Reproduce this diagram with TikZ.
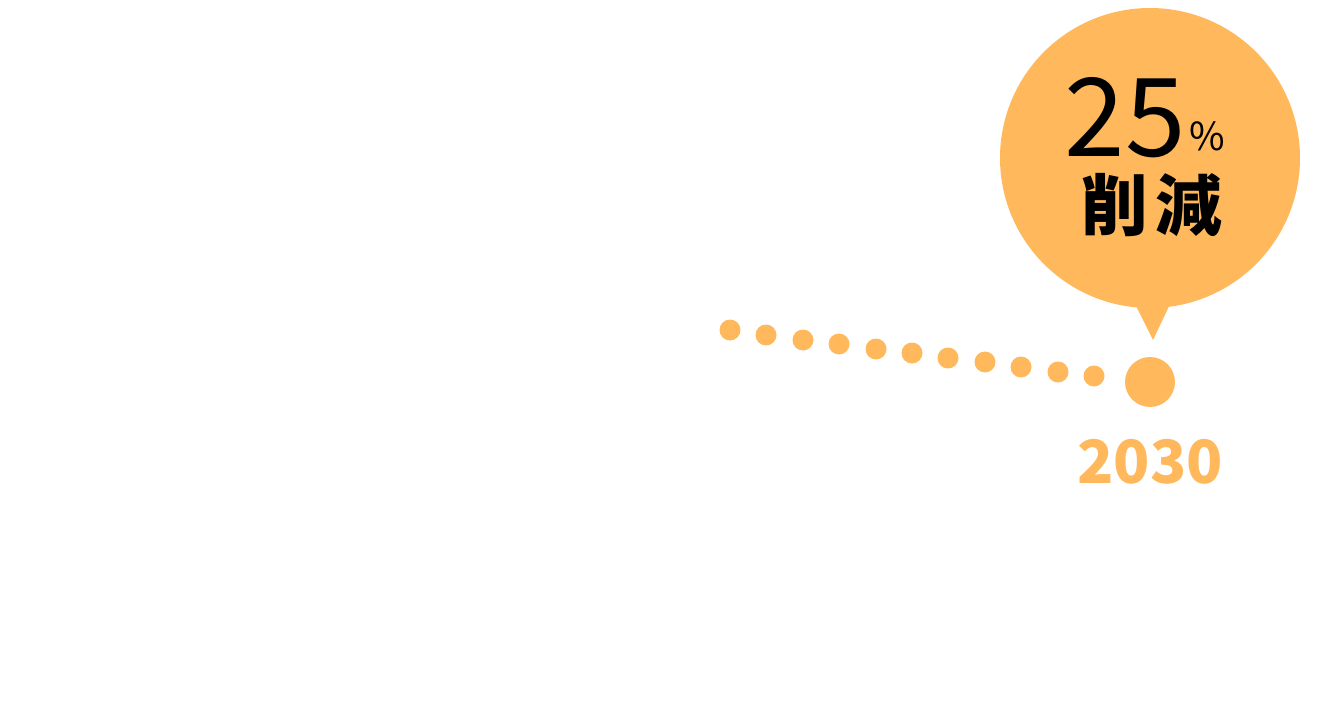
\documentclass[tikz,border=0pt]{standalone}
\usepackage{fontspec}
\setmainfont{Noto Sans CJK JP}
\newfontfamily\cjkb{Noto Sans CJK JP Bold}
\definecolor{org}{HTML}{FFB95C}
\begin{document}
\begin{tikzpicture}[x=0.02cm,y=-0.02cm,
  dotsm/.style={fill=org,draw=none}]
\useasboundingbox (0,0) rectangle (1320,720);
\fill[org] (1150,158) circle (150);
\fill[org] (1133,300) -- (1172,300) -- (1153,340) -- cycle;
\node[circle,fill=org,minimum size=1cm,inner sep=0pt] (big) at (1150,382) {};
\foreach \x/\y [count=\i] in {730/330,766/335,803/340,839/344,876/349,912/353,948/358,985/362,1021/367,1058/372,1094/376}
  \fill[dotsm] (\x,\y) circle (10.5);
\node[text=org,font=\fontsize{34}{34}\selectfont\bfseries] (yr) at (1150,462) {2030};
\node[font=\fontsize{62}{62}\selectfont] (num) at (1125,118) {25};
\node[font=\fontsize{22}{22}\selectfont] (pct) at (1207,136) {\%};
\node[font=\fontsize{38}{38}\selectfont\bfseries] (cut) at (1152,205) {削\hspace{0.1em}減};
\end{tikzpicture}
\end{document}
